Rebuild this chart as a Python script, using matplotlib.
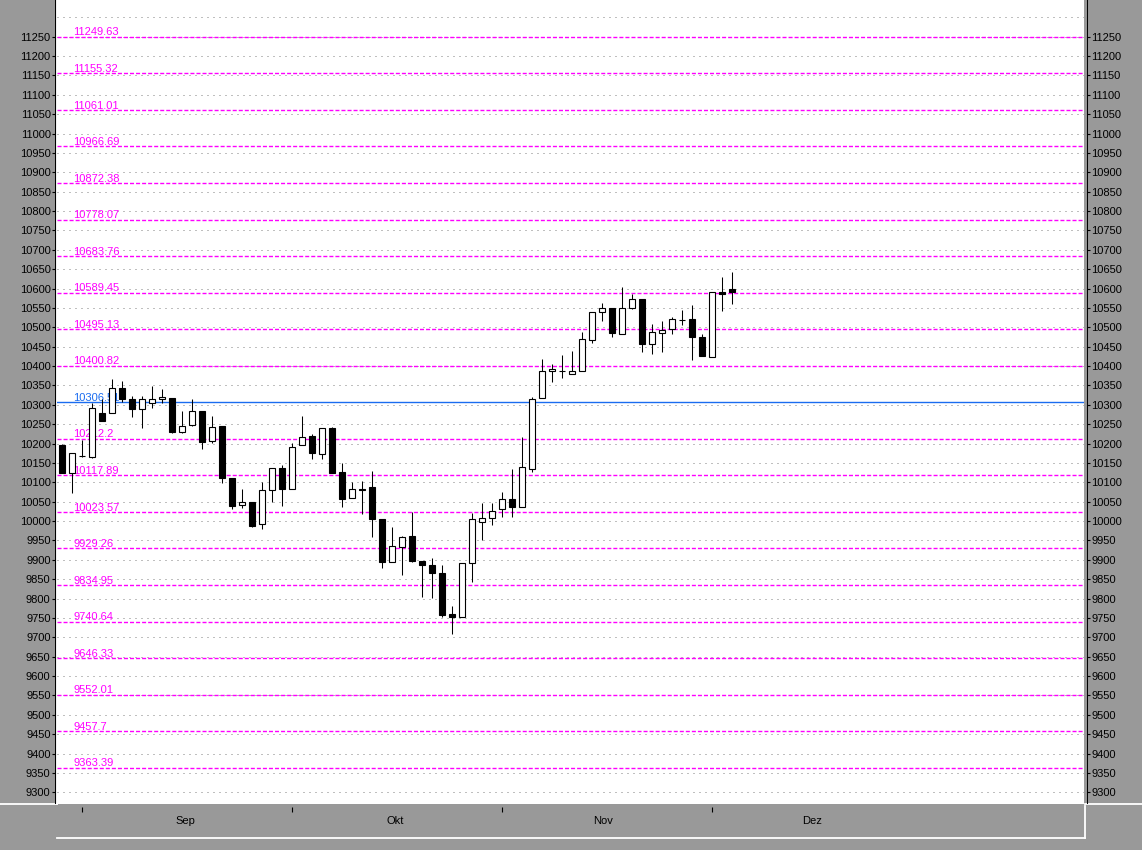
import matplotlib
matplotlib.use("Agg")
import matplotlib.pyplot as plt
from matplotlib.lines import Line2D
import numpy as np

plt.rcParams['font.family'] = ['Liberation Sans', 'DejaVu Sans']

# ---------------- data ----------------
opens = [10196, 10123, 10169, 10165, 10278, 10280, 10343, 10314, 10289, 10305,
         10314, 10317, 10231, 10248, 10283, 10206, 10245, 10110, 10041, 10048,
         9992, 10079, 10136, 10082, 10195, 10219, 10172, 10239, 10127, 10059,
         10082, 10087, 10005, 9895, 9934, 9961, 9897, 9887, 9865, 9760,
         9752, 9891, 9998, 10007, 10030, 10056, 10037, 10134, 10317, 10386,
         10387, 10379, 10388, 10467, 10540, 10549, 10482, 10549, 10572, 10456,
         10486, 10495, 10519, 10521, 10474, 10424, 10591, 10598]
highs = [10198, 10175, 10209, 10304, 10314, 10366, 10362, 10323, 10323, 10349,
         10341, 10317, 10284, 10314, 10283, 10272, 10245, 10110, 10083, 10048,
         10100, 10136, 10145, 10201, 10271, 10225, 10239, 10242, 10149, 10100,
         10103, 10129, 10005, 9985, 9961, 10024, 9897, 9904, 9887, 9781,
         9891, 10022, 10047, 10046, 10076, 10134, 10216, 10319, 10418, 10405,
         10429, 10439, 10489, 10539, 10564, 10549, 10603, 10586, 10572, 10509,
         10516, 10526, 10545, 10558, 10482, 10590, 10631, 10644]
lows = [10123, 10073, 10166, 10162, 10259, 10280, 10308, 10269, 10239, 10293,
        10304, 10228, 10228, 10245, 10186, 10201, 10097, 10032, 10034, 9985,
        9979, 10050, 10040, 10082, 10195, 10159, 10159, 10125, 10037, 10059,
        10017, 9958, 9878, 9895, 9861, 9895, 9805, 9802, 9753, 9709,
        9752, 9843, 9951, 9990, 10011, 10011, 10037, 10127, 10317, 10360,
        10368, 10379, 10388, 10460, 10517, 10476, 10482, 10547, 10437, 10431,
        10435, 10482, 10506, 10416, 10427, 10424, 10543, 10559]
closes = [10123, 10175, 10168, 10291, 10259, 10343, 10314, 10288, 10314, 10314,
          10319, 10231, 10245, 10285, 10205, 10243, 10110, 10040, 10048, 9988,
          10080, 10136, 10082, 10192, 10216, 10176, 10239, 10125, 10056, 10082,
          10080, 10005, 9895, 9936, 9958, 9897, 9887, 9867, 9758, 9752,
          9891, 10005, 10007, 10027, 10056, 10037, 10139, 10314, 10387, 10392,
          10386, 10387, 10469, 10539, 10549, 10486, 10549, 10572, 10456, 10489,
          10493, 10521, 10519, 10476, 10427, 10590, 10586, 10592]

# Retracement levels (magenta) and the highlighted one (blue)
levels = [9363.39, 9457.7, 9552.01, 9646.33, 9740.64, 9834.95, 9929.26,
          10023.57, 10117.89, 10212.2, 10306.51, 10400.82, 10495.13, 10589.45,
          10683.76, 10778.07, 10872.38, 10966.69, 11061.01, 11155.32, 11249.63]
highlight_level = 10306.51

month_labels = ['Sep', 'Okt', 'Nov', 'Dez']
month_start_idx = [2, 23, 44, 65]
month_label_idx = [12.3, 33.3, 54.1, 75.0]

ytick_values = list(range(9300, 11251, 50))
grid_values = list(range(9300, 11301, 50))

# ---------------- figure ----------------
W, H = 1142, 850
DPI = 100
BG = '#999999'
fig = plt.figure(figsize=(W / DPI, H / DPI), dpi=DPI, facecolor=BG)

# background decoration axes in pixel coordinates
bg = fig.add_axes([0, 0, 1, 1], zorder=0)
bg.set_xlim(0, W)
bg.set_ylim(H, 0)
bg.axis('off')
bg.patch.set_alpha(0)
# bevel lines
bg.plot([0, 56.5], [804, 804], color='white', lw=1.3)
bg.plot([56.5, 56.5], [0, 804], color='white', lw=1.3)
bg.plot([1084.5, W], [804, 804], color='white', lw=1.3)
bg.plot([57, 1084.5], [837.5, 837.5], color='white', lw=1.3)
bg.plot([1084.5, 1084.5], [806, 837.5], color='white', lw=1.3)

# main axes
left_px, right_px, top_px, bottom_px = 57, 1084, 0, 803.5
ax = fig.add_axes([left_px / W, (H - bottom_px) / H,
                   (right_px - left_px) / W, (bottom_px - top_px) / H], zorder=1)
ax.set_facecolor('white')

x = np.arange(len(opens))
o = np.array(opens, float)
c = np.array(closes, float)
hi = np.array(highs, float)
lo = np.array(lows, float)

ax.set_xlim(-0.53, 102.17)
ax.set_ylim(9271.1, 11344.7)

# dotted grid
for g in grid_values:
    ax.axhline(g, color='#808080', lw=0.72, linestyle=(0, (1, 5)), zorder=1)

# levels
for lv in levels:
    txt = f"{lv:.2f}".rstrip('0').rstrip('.')
    if abs(lv - highlight_level) < 1e-6:
        col = '#1a6cf0'
        ax.axhline(lv, color=col, lw=1.0, zorder=1.5)
    else:
        col = '#ff00ff'
        ax.axhline(lv, color=col, lw=1.0, linestyle=(0, (2.9, 1.45)), zorder=1.5)
    ax.annotate(txt, xy=(1.1, lv), xytext=(0, 1.0), textcoords='offset points',
                ha='left', va='baseline', color=col, fontsize=8, zorder=2)

# candles
ax.vlines(x, lo, hi, color='black', lw=0.75, zorder=3)
up = c >= o
ax.bar(x[up], (c - o)[up], bottom=o[up], width=0.62, color='white',
       edgecolor='black', linewidth=0.8, zorder=4)
ax.bar(x[~up], (c - o)[~up], bottom=o[~up], width=0.62, color='black',
       edgecolor='black', linewidth=0.8, zorder=4)

# y axes on both sides
ax.set_yticks(ytick_values)
ax.set_yticklabels([str(v) for v in ytick_values])
ax.tick_params(axis='y', which='major', left=True, right=True, labelleft=True,
               labelright=True, length=2.4, width=0.8, direction='out',
               pad=0.6, labelsize=8, colors='black')
for side, off in (('left', 1.6), ('right', 2.3)):
    sp = ax.spines[side]
    sp.set_position(('outward', off))
    sp.set_linestyle((0, (1, 1)))
    sp.set_linewidth(0.75)
    sp.set_color('black')
ax.spines['top'].set_visible(False)

# x axis: month ticks + centered labels
ax.spines['bottom'].set_position(('outward', 2.3))
ax.spines['bottom'].set_linewidth(0)
ax.set_xticks(month_start_idx)
ax.set_xticklabels([''] * len(month_start_idx))
ax.set_xticks(month_label_idx, minor=True)
ax.set_xticklabels(month_labels, minor=True)
ax.tick_params(axis='x', which='major', length=3.6, width=0.8, direction='out',
               colors='black')
ax.tick_params(axis='x', which='minor', length=0, pad=6.8, labelsize=8,
               labelcolor='black')

fig.savefig('out.png', dpi=DPI, facecolor=BG)
